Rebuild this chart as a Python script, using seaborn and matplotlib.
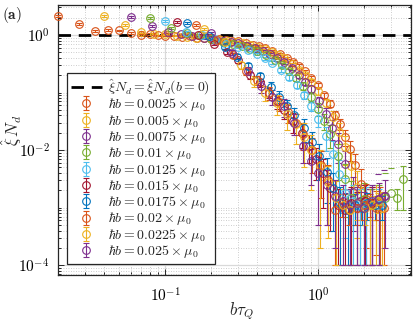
import numpy as np
import matplotlib
matplotlib.use("Agg")
import matplotlib.pyplot as plt
from matplotlib.ticker import LogLocator, FuncFormatter, NullFormatter
import seaborn as sns

# quench times (shared grid), x axis = b * tau_Q
tau_q = [8, 11, 14, 17, 20, 24, 28, 32, 36, 40, 46, 52, 58, 65, 72, 80, 90, 100, 110, 120,
         135, 150, 165, 180, 200, 225, 250, 275, 300, 330, 360, 400, 440, 480, 520, 560, 600,
         650, 700, 760, 820, 880, 950, 1020, 1080]

b_values = [0.0025, 0.005, 0.0075, 0.01, 0.0125, 0.015, 0.0175, 0.02, 0.0225, 0.025]
b_labels = ["0.0025", "0.005", "0.0075", "0.01", "0.0125", "0.015", "0.0175", "0.02", "0.0225", "0.025"]

# xi*N_d values per b
y_0025 = [2.14, 1.55, 1.17, 1.21, 1.2, 1.08, 1.0, 1.03, 0.98, 0.97, 0.96, 0.93, 0.94, 0.9, 0.9,
          0.87, 0.86, 0.82, 0.80, 0.77, 0.73, 0.68, 0.64, 0.6, 0.53, 0.47, 0.40, 0.345, 0.29, 0.235,
          0.18, 0.135, 0.09, 0.064, 0.041, 0.028, 0.017, 0.0105, 0.0055, 0.0026, 0.0014, 0.0011,
          0.00105, 0.0012, 0.001]
e_0025 = [0.06, 0.05, 0.04, 0.04, 0.03, 0.03, 0.03, 0.03, 0.02, 0.02, 0.02, 0.02, 0.02, 0.02, 0.02,
          0.02, 0.02, 0.02, 0.02, 0.02, 0.02, 0.02, 0.02, 0.02, 0.02, 0.02, 0.02, 0.02, 0.02, 0.015,
          0.015, 0.012, 0.01, 0.009, 0.007, 0.006, 0.005, 0.004, 0.003, 0.002, 0.0012, 0.001,
          0.0009, 0.0011, 0.0009]

y_005 = [2.14, 1.5, 1.13, 1.05, 1.02, 0.96, 0.93, 0.9, 0.89, 0.86, 0.83, 0.8, 0.76, 0.71, 0.67,
         0.62, 0.56, 0.5, 0.44, 0.39, 0.31, 0.25, 0.2, 0.15, 0.105, 0.066, 0.037, 0.021, 0.0115,
         0.0052, 0.0023, 0.0012, 0.0011, 0.0013, 0.001]
e_005 = [0.06, 0.05, 0.04, 0.03, 0.03, 0.02, 0.02, 0.02, 0.02, 0.02, 0.02, 0.02, 0.02, 0.02, 0.02,
         0.02, 0.02, 0.02, 0.02, 0.02, 0.02, 0.02, 0.02, 0.02, 0.015, 0.012, 0.01, 0.008, 0.006,
         0.004, 0.002, 0.0011, 0.001, 0.0012, 0.0009]

y_0075 = [2.05, 1.43, 1.12, 1.02, 0.95, 0.87, 0.83, 0.8, 0.75, 0.72, 0.65, 0.59, 0.53, 0.47, 0.4,
          0.335, 0.265, 0.2, 0.155, 0.115, 0.07, 0.042, 0.024, 0.013, 0.0058, 0.0019, 0.0013,
          0.0011, 0.0012, 0.0014, 0.0016]
e_0075 = [0.06, 0.05, 0.04, 0.03, 0.03, 0.02, 0.02, 0.02, 0.02, 0.02, 0.02, 0.02, 0.02, 0.02, 0.02,
          0.02, 0.02, 0.02, 0.02, 0.018, 0.014, 0.011, 0.009, 0.007, 0.004, 0.0015, 0.0012,
          0.001, 0.0011, 0.0025, 0.0029]

y_01 = [1.97, 1.32, 1.08, 0.98, 0.86, 0.76, 0.7, 0.64, 0.58, 0.52, 0.44, 0.37, 0.3, 0.235, 0.18,
        0.13, 0.085, 0.052, 0.032, 0.019, 0.008, 0.0032, 0.0015, 0.0012, 0.0014, 0.0011, 0.0013,
        0.0015, 0.0018, 0.0015, 0.0031]
e_01 = [0.06, 0.05, 0.04, 0.03, 0.03, 0.02, 0.02, 0.02, 0.02, 0.02, 0.02, 0.02, 0.02, 0.02, 0.02,
        0.02, 0.017, 0.013, 0.01, 0.008, 0.005, 0.0025, 0.0014, 0.0011, 0.0013, 0.001, 0.0012,
        0.0025, 0.003, 0.0006, 0.0022]

y_0125 = [1.75, 1.13, 1.0, 0.84, 0.7, 0.61, 0.54, 0.46, 0.39, 0.33, 0.25, 0.185, 0.135, 0.09,
          0.059, 0.035, 0.0175, 0.0085, 0.0038, 0.0018, 0.0013, 0.0011, 0.0012, 0.0013, 0.0011]
e_0125 = [0.06, 0.05, 0.04, 0.03, 0.03, 0.02, 0.02, 0.02, 0.02, 0.02, 0.02, 0.018, 0.016, 0.014,
          0.012, 0.01, 0.008, 0.006, 0.003, 0.0015, 0.0012, 0.001, 0.0011, 0.0012, 0.001]

y_015 = [1.68, 1.0, 0.7, 0.5, 0.36, 0.2, 0.15, 0.1, 0.07, 0.05, 0.032, 0.02, 0.012, 0.007, 0.004,
         0.0022, 0.0011, 0.0009, 0.0012, 0.001, 0.0013, 0.0012]
e_015 = [0.06, 0.05, 0.04, 0.04, 0.035, 0.03, 0.025, 0.02, 0.018, 0.015, 0.012, 0.009, 0.006,
         0.004, 0.003, 0.0018, 0.001, 0.0008, 0.0011, 0.0009, 0.0012, 0.0011]

y_0175 = [1.6, 0.95, 0.62, 0.42, 0.29, 0.19, 0.125, 0.085, 0.058, 0.04, 0.024, 0.014, 0.008,
          0.0042, 0.0022, 0.0012, 0.0009, 0.0011, 0.001, 0.0012, 0.0011, 0.0011]
e_0175 = [0.06, 0.05, 0.04, 0.04, 0.035, 0.03, 0.025, 0.02, 0.016, 0.013, 0.01, 0.007, 0.005,
          0.003, 0.0018, 0.0011, 0.0008, 0.0006, 0.0005, 0.0006, 0.0005, 0.0005]

y_02 = [1.5, 0.82, 0.45, 0.24, 0.165, 0.1, 0.068, 0.045, 0.03, 0.019, 0.01, 0.0055, 0.003,
        0.0009, 0.0012, 0.0009, 0.001, 0.0011, 0.0012, 0.001]
e_02 = [0.06, 0.05, 0.045, 0.035, 0.03, 0.025, 0.02, 0.016, 0.012, 0.009, 0.006, 0.004, 0.0025,
        0.0008, 0.0005, 0.0004, 0.0005, 0.0005, 0.0005, 0.0004]

y_0225 = [1.27, 0.75, 0.3, 0.16, 0.1, 0.065, 0.042, 0.028, 0.017, 0.01, 0.0052, 0.0028, 0.0015,
          0.0011, 0.0009, 0.0012, 0.001, 0.0011, 0.0013]
e_0225 = [0.06, 0.05, 0.04, 0.035, 0.03, 0.025, 0.02, 0.015, 0.012, 0.008, 0.005, 0.0025, 0.0014,
          0.001, 0.0008, 0.0006, 0.0005, 0.0005, 0.0005]

y_025 = [1.08, 0.49, 0.24, 0.13, 0.085, 0.058, 0.03, 0.012, 0.0065, 0.004, 0.0025, 0.0016, 0.0013,
         0.0011, 0.0012, 0.001, 0.0013, 0.0014, 0.0016]
e_025 = [0.06, 0.05, 0.04, 0.03, 0.025, 0.02, 0.012, 0.006, 0.004, 0.0035, 0.002, 0.0014, 0.0012,
         0.001, 0.0011, 0.0009, 0.0012, 0.0013, 0.0014]

all_y = [y_0025, y_005, y_0075, y_01, y_0125, y_015, y_0175, y_02, y_0225, y_025]
all_e = [e_0025, e_005, e_0075, e_01, e_0125, e_015, e_0175, e_02, e_0225, e_025]

# MATLAB default colour order, starting from the 2nd entry
matlab_cols = ["#D95319", "#EDB120", "#7E2F8E", "#77AC30", "#4DBEEE", "#A2142F", "#0072BD"]

sns.set_theme(style="ticks")
plt.rcParams["mathtext.fontset"] = "cm"
plt.rcParams["font.family"] = ["DejaVu Serif"]
palette = sns.color_palette(matlab_cols)

fig = plt.figure(figsize=(4.15, 3.23), dpi=100)
ax = fig.add_axes([58 / 415, 48 / 323, 353 / 415, 270 / 323])
ax.set_xscale("log")
ax.set_yscale("log")

# b = 0 reference
ax.axhline(1.0, color="black", lw=2.0, dashes=(4.5, 2.8),
           label=r"$\hat{\xi} N_d = \hat{\xi} N_d(b=0)$", zorder=2)

tau = np.array(tau_q, dtype=float)
for i, (b, lab, y, e) in enumerate(zip(b_values, b_labels, all_y, all_e)):
    y = np.array(y)
    e = np.array(e)
    x = b * tau[:len(y)]
    lower = np.where(e >= y, np.nan, e)   # like matlab: drop bars that go below zero
    ax.errorbar(x, y, yerr=[lower, e], fmt="o", ms=5.5, mfc="none", mew=0.8,
                color=palette[i % len(palette)], elinewidth=0.8, capsize=2.2, capthick=0.8,
                label=r"$\hbar b = %s \times \mu_0$" % lab, zorder=3, clip_on=False)

ax.set_xlim(0.02, 4.05)
ax.set_ylim(10 ** -4.17, 10 ** 0.52)

def pow_fmt(v, pos):
    return r"$10^{%d}$" % int(round(np.log10(v)))

ax.xaxis.set_major_locator(LogLocator(base=10))
ax.xaxis.set_minor_locator(LogLocator(base=10, subs=np.arange(2, 10)))
ax.yaxis.set_major_locator(LogLocator(base=100))
ax.yaxis.set_minor_locator(LogLocator(base=10, subs=np.arange(1, 10), numticks=20))
ax.xaxis.set_major_formatter(FuncFormatter(pow_fmt))
ax.yaxis.set_major_formatter(FuncFormatter(pow_fmt))
ax.xaxis.set_minor_formatter(NullFormatter())
ax.yaxis.set_minor_formatter(NullFormatter())

ax.set_axisbelow(True)
ax.grid(True, which="major", color="#d9d9d9", lw=0.9, ls="-")
ax.grid(True, which="minor", color="#bdbdbd", lw=0.6, ls=(0, (1, 2)))
ax.tick_params(which="both", direction="in", top=True, right=True, colors="#262626",
               labelcolor="black", labelsize=11, width=0.7)
ax.tick_params(axis="x", which="major", length=4, pad=8)
ax.tick_params(axis="y", which="major", length=4, pad=6)
ax.tick_params(which="minor", length=2.2)
for s in ax.spines.values():
    s.set_color("#262626")
    s.set_linewidth(0.9)

ax.set_xlabel(r"$b\tau_Q$", fontsize=12)
ax.set_ylabel(r"$\hat{\xi}\, N_d$", fontsize=12)
ax.xaxis.set_label_coords(0.52, -0.095)
ax.yaxis.set_label_coords(-0.097, 0.535)

leg = ax.legend(loc="lower left", bbox_to_anchor=(0.025, 0.04), fontsize=10, frameon=True,
                fancybox=False, edgecolor="#262626", framealpha=1, handlelength=2.2,
                labelspacing=-0.05, borderpad=0.3, handletextpad=0.5, borderaxespad=0)
leg.get_frame().set_linewidth(0.9)

fig.text(0.006, 0.985, r"$\mathbf{(a)}$", fontsize=11, va="top", ha="left")

fig.savefig("out.png", dpi=100)
